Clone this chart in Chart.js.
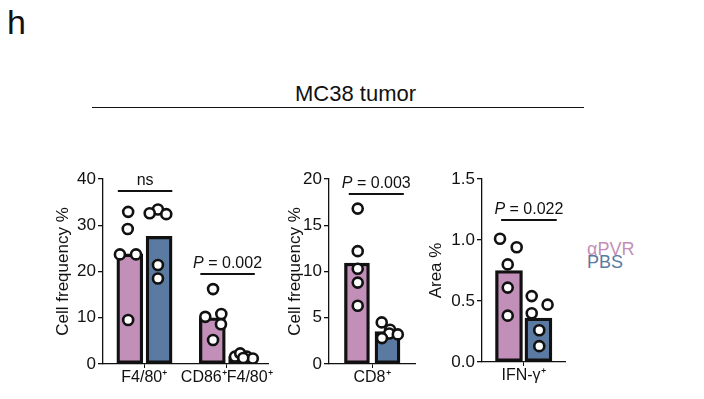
<!DOCTYPE html>
<html>
<head>
<meta charset="utf-8">
<script src="https://cdn.jsdelivr.net/npm/chart.js@4.4.1/dist/chart.umd.min.js"></script>
<style>
  html, body { margin: 0; padding: 0; background: #fff; }
  body { width: 704px; height: 399px; position: relative; overflow: hidden;
         font-family: "Liberation Sans", Arial, sans-serif; color: #111; }
  .txt { position: absolute; white-space: nowrap; line-height: 1; }
  canvas { position: absolute; }
  #rule { position: absolute; left: 92px; top: 107px; width: 492px; height: 0; border-top: 1px solid #111; }
</style>
</head>
<body>
<div class="txt" style="left:7px;top:4.5px;font-size:34px;">h</div>
<div class="txt" id="title" style="left:295px;top:83px;font-size:22px;">MC38 tumor</div>
<div id="rule"></div>
<div class="txt" id="leg1" style="left:587px;top:239.8px;font-size:18px;"></div>
<div class="txt" id="leg2" style="left:587px;top:252.5px;font-size:18px;"></div>

<div style="position:absolute;left:45px;top:150px;width:253px;height:249px;"><canvas id="c1" width="253" height="249"></canvas></div>
<div style="position:absolute;left:276px;top:150px;width:154px;height:249px;"><canvas id="c2" width="154" height="249"></canvas></div>
<div style="position:absolute;left:417px;top:150px;width:158px;height:249px;"><canvas id="c3" width="158" height="249"></canvas></div>

<script>
// ---------- data ----------
const groupNames = ['αPVR', 'PBS'];
const groupColors = ['#c28fb8', '#5b7aa1'];
const groupOffset = [-0.175, 0.18];   // bar position within a category (category units)

// Panel 1: macrophages
const macroCats = ['F4/80⁺', 'CD86⁺F4/80⁺'];
const macroTicks = [0, 10, 20, 30, 40];
const macroBarAPVR = [23.8, 10.0];
const macroBarPBS = [27.6, 1.6];
const macroPtsAPVR = [[32.9, 29.2, 23.7, 23.7, 9.5], [16.2, 10.8, 10.2, 8.6, 5.2]];
const macroJitAPVR = [[-0.195, -0.2, -0.295, -0.1, -0.195], [-0.166, -0.066, -0.26, -0.07, -0.166]];
const macroPtsPBS = [[33.4, 32.6, 32.4, 21.4, 18.5], [1.6, 2.3, 1.6, 1.2, 1.3]];
const macroJitPBS = [[0.166, 0.066, 0.267, 0.166, 0.166], [0.10, 0.163, 0.243, 0.316, 0.2]];
const macroSigText = ['ns', 'P = 0.002'];
const macroSigY = [37.5, 19.5];

// Panel 2: CD8
const cd8Cats = ['CD8⁺'];
const cd8Ticks = [0, 5, 10, 15, 20];
const cd8BarAPVR = [10.9];
const cd8BarPBS = [3.5];
const cd8PtsAPVR = [[16.8, 12.2, 10.3, 8.8, 6.3]];
const cd8JitAPVR = [[-0.166, -0.166, -0.166, -0.166, -0.166]];
const cd8PtsPBS = [[4.5, 3.7, 3.3, 3.2, 2.8]];
const cd8JitPBS = [[0.113, 0.21, 0.2, 0.30, 0.116]];
const cd8SigText = ['P = 0.003'];
const cd8SigY = [18.4];

// Panel 3: IFN-γ
const ifnCats = ['IFN-γ⁺'];
const ifnTicks = [0, 0.5, 1.0, 1.5];
const ifnBarAPVR = [0.75];
const ifnBarPBS = [0.36];
const ifnPtsAPVR = [[1.01, 0.94, 0.80, 0.61, 0.38]];
const ifnJitAPVR = [[-0.283, -0.082, -0.19, -0.19, -0.19]];
const ifnPtsPBS = [[0.54, 0.47, 0.40, 0.26, 0.13]];
const ifnJitPBS = [[0.099, 0.29, 0.099, 0.19, 0.19]];
const ifnSigText = ['P = 0.022'];
const ifnSigY = [1.165];

document.getElementById('leg1').textContent = groupNames[0];
document.getElementById('leg1').style.color = groupColors[0];
document.getElementById('leg2').textContent = groupNames[1];
document.getElementById('leg2').style.color = groupColors[1];

// ---------- helpers ----------
const FONT = '"Liberation Sans", Arial, sans-serif';
const INK = '#111';

const sigPlugin = {
  id: 'sig',
  afterDatasetsDraw(chart, args, opts) {
    const ctx = chart.ctx;
    const xs = chart.scales.x, ys = chart.scales.y;
    opts.texts.forEach((t, i) => {
      const x1 = xs.getPixelForValue(i + opts.from);
      const x2 = xs.getPixelForValue(i + opts.to);
      const y = Math.round(ys.getPixelForValue(opts.ys[i]));
      ctx.save();
      ctx.strokeStyle = INK;
      ctx.lineWidth = 2;
      ctx.beginPath();
      ctx.moveTo(x1, y);
      ctx.lineTo(x2, y);
      ctx.stroke();
      ctx.fillStyle = INK;
      ctx.textBaseline = 'alphabetic';
      ctx.textAlign = 'left';
      const cx = (x1 + x2) / 2;
      if (t.startsWith('P')) {
        ctx.font = 'italic 16px ' + FONT;
        const w1 = ctx.measureText('P').width;
        ctx.font = '16px ' + FONT;
        const rest = t.slice(1);
        const w2 = ctx.measureText(rest).width;
        const sx = cx - (w1 + w2) / 2;
        ctx.font = 'italic 16px ' + FONT;
        ctx.fillText('P', sx, y - 6);
        ctx.font = '16px ' + FONT;
        ctx.fillText(rest, sx + w1, y - 6);
      } else {
        ctx.font = '16px ' + FONT;
        const w = ctx.measureText(t).width;
        ctx.fillText(t, cx - w / 2, y - 6);
      }
      ctx.restore();
    });
  }
};

function pointsData(vals, jit) {
  const out = [];
  vals.forEach((arr, ci) => arr.forEach((v, k) => out.push({ x: ci + jit[ci][k], y: v })));
  return out;
}
function barData(vals, g) {
  return vals.map((v, ci) => ({ x: ci + groupOffset[g], y: v }));
}

function makeChart(id, cfg) {
  const n = cfg.cats.length;
  const ctx = document.getElementById(id);
  const pt = { pointRadius: 5, pointBorderWidth: 2.6, pointBackgroundColor: '#fff', pointBorderColor: INK, order: 0, showLine: false };
  const br = { borderColor: INK, borderWidth: 3.3, borderSkipped: false, grouped: false, barThickness: cfg.barW, order: 1 };
  return new Chart(ctx, {
    type: 'bar',
    data: {
      datasets: [
        Object.assign({ type: 'scatter', data: pointsData(cfg.ptsA, cfg.jitA) }, pt),
        Object.assign({ type: 'scatter', data: pointsData(cfg.ptsB, cfg.jitB) }, pt),
        Object.assign({ type: 'bar', label: groupNames[0], data: barData(cfg.barA, 0), backgroundColor: groupColors[0] }, br),
        Object.assign({ type: 'bar', label: groupNames[1], data: barData(cfg.barB, 1), backgroundColor: groupColors[1] }, br)
      ]
    },
    options: {
      responsive: false,
      animation: false,
      events: [],
      layout: { padding: { left: 0, right: cfg.padRight, top: 29, bottom: 0 } },
      plugins: {
        legend: { display: false },
        tooltip: { enabled: false },
        sig: { texts: cfg.sigText, ys: cfg.sigY, from: cfg.sigFrom, to: cfg.sigTo }
      },
      scales: {
        x: {
          type: 'linear',
          offset: false,
          bounds: 'ticks',
          min: -0.5, max: n - 0.5,
          afterBuildTicks: s => { s.ticks = cfg.cats.map((c, i) => ({ value: i })); },
          grid: { display: true, offset: false, drawOnChartArea: false, drawTicks: true, tickLength: 4, color: INK, lineWidth: 1 },
          border: { display: true, color: INK, width: 1.3 },
          ticks: { color: INK, font: { family: FONT, size: 16 }, padding: 0, autoSkip: false, maxRotation: 0, minRotation: 0,
                   callback: v => cfg.cats[Math.round(v)] },
          afterFit: s => { s.height = cfg.xHeight; }
        },
        y: {
          type: 'linear',
          min: cfg.ticks[0], max: cfg.ticks[cfg.ticks.length - 1],
          afterBuildTicks: s => { s.ticks = cfg.ticks.map(v => ({ value: v })); },
          grid: { display: true, drawOnChartArea: false, drawTicks: true, tickLength: 5, color: INK, lineWidth: 1.3 },
          border: { display: true, color: INK, width: 1.3 },
          ticks: { color: INK, font: { family: FONT, size: 17 }, padding: 2,
                   callback: v => cfg.fmt(v) },
          title: { display: true, text: cfg.yTitle, color: INK, font: { family: FONT, size: 17 },
                   padding: { top: cfg.titlePad, bottom: 0 } },
          afterFit: s => { s.width = cfg.yWidth; }
        }
      }
    },
    plugins: [sigPlugin]
  });
}

makeChart('c1', {
  cats: macroCats, ticks: macroTicks, fmt: v => String(v),
  barA: macroBarAPVR, barB: macroBarPBS,
  ptsA: macroPtsAPVR, jitA: macroJitAPVR, ptsB: macroPtsPBS, jitB: macroJitPBS,
  sigText: macroSigText, sigY: macroSigY, sigFrom: -0.32, sigTo: 0.34,
  yTitle: 'Cell frequency %', titlePad: 8, yWidth: 58, padRight: 30, xHeight: 35, barW: 26
});

makeChart('c2', {
  cats: cd8Cats, ticks: cd8Ticks, fmt: v => String(v),
  barA: cd8BarAPVR, barB: cd8BarPBS,
  ptsA: cd8PtsAPVR, jitA: cd8JitAPVR, ptsB: cd8PtsPBS, jitB: cd8JitPBS,
  sigText: cd8SigText, sigY: cd8SigY, sigFrom: -0.27, sigTo: 0.37,
  yTitle: 'Cell frequency %', titlePad: 9, yWidth: 53, padRight: 15, xHeight: 35, barW: 25
});

makeChart('c3', {
  cats: ifnCats, ticks: ifnTicks, fmt: v => v.toFixed(1),
  barA: ifnBarAPVR, barB: ifnBarPBS,
  ptsA: ifnPtsAPVR, jitA: ifnJitAPVR, ptsB: ifnPtsPBS, jitB: ifnJitPBS,
  sigText: ifnSigText, sigY: ifnSigY, sigFrom: -0.27, sigTo: 0.4,
  yTitle: 'Area %', titlePad: 9, yWidth: 65, padRight: 10, xHeight: 37, barW: 27
});
</script>
</body>
</html>
